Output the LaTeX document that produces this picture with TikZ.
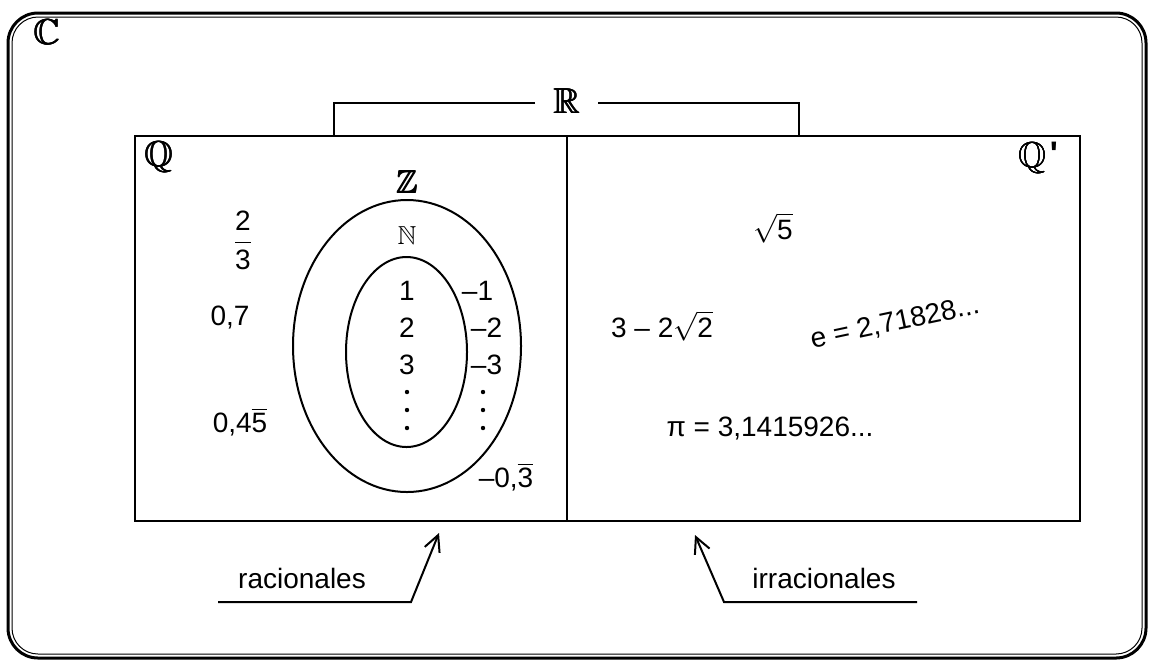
\documentclass[tikz,border=0pt]{standalone}
\usepackage{amsmath,amssymb}
\usepackage{fontspec}
\setmainfont{Liberation Sans}
\usetikzlibrary{arrows.meta}
\newcommand\fatbb[1]{\makebox[0pt][l]{$\mathbb{#1}$}\makebox[0pt][l]{\kern0.4pt$\mathbb{#1}$}\makebox[0pt][l]{\raisebox{0.25pt}{$\mathbb{#1}$}}\kern0.4pt\raisebox{0.25pt}{$\mathbb{#1}$}}
\begin{document}
\begin{tikzpicture}[x=0.5pt,y=-0.5pt,
  txt/.style={font=\fontsize{14}{16}\selectfont, inner sep=0pt},
  bb/.style={font=\fontsize{18}{20}\selectfont, inner sep=0pt},
  bbs/.style={font=\fontsize{13}{15}\selectfont, inner sep=0pt},
  boxline/.style={line width=1.3pt},
  ovl/.style={line width=1pt},
  pointer/.style={line width=1pt, -{Straight Barb[length=8pt,width=8pt,line width=1pt]}},
  dotmark/.style={fill=black}]
\useasboundingbox (0,0) rectangle (1149,661);
% outer frame (double line)
\draw[line width=1.5pt, rounded corners=15pt] (8,13) rectangle (1146,658);
\draw[line width=0.5pt, rounded corners=13pt] (12,17) rectangle (1142,654);
\node[bb] (C) at (47,32) {\fatbb{C}};
% Q and Q' boxes
\draw[boxline] (135,136) rectangle (1080,521);
\draw[boxline] (567,136) -- (567,521);
\node[bb] (Q) at (159,157) {\fatbb{Q}};
\node[bb] (Qp) at (1038,158) {\fatbb{Q}\kern1.5pt\raisebox{1pt}{\fontsize{17}{18}\selectfont\textbf{\textquotesingle}}};
% R bracket
\node[bb] (R) at (567,101) {\fatbb{R}};
\coordinate (bl) at (334,136);
\coordinate (br) at (799,136);
\draw[boxline] (535,103) -| (bl);
\draw[boxline] (598,103) -| (br);
% Z and N
\node[bb, font=\fontsize{16}{18}\selectfont] (Z) at (407,182) {\fatbb{Z}};
\draw[ovl] (407,346) ellipse [x radius=57pt, y radius=73pt];
\node[bbs] (N) at (407,236) {$\mathbb{N}$};
\draw[ovl] (406.5,352) ellipse [x radius=30.25pt, y radius=47.5pt];
% naturals
\node[txt] (n1) at (407,291) {1};
\node[txt] (n2) at (407,328) {2};
\node[txt] (n3) at (407,365) {3};
\fill[dotmark] (407,392) circle (1.1pt);
\fill[dotmark] (407,410) circle (1.1pt);
\fill[dotmark] (407,428) circle (1.1pt);
% negatives
\node[txt] (m1) at (477.5,291) {–1};
\node[txt] (m2) at (486.5,328) {–2};
\node[txt] (m3) at (486.5,365) {–3};
\fill[dotmark] (483,392) circle (1.1pt);
\fill[dotmark] (483,410) circle (1.1pt);
\fill[dotmark] (483,428) circle (1.1pt);
\node[txt] (m03) at (506,477) {–0,$\overline{\text{3}}$};
% rationals
\node[txt] (f23) at (243,240) {$\dfrac{\text{2}}{\text{3}}$};
\node[txt] (d07) at (230,317) {0,7};
\node[txt] (d045) at (240,422) {0,4$\overline{\text{5}}$};
% irrationals
\node[txt] (s5) at (773,228) {$\sqrt{\text{5}}$};
\node[txt] (s2) at (662,326) {3 – 2$\sqrt{\text{2}}$};
\node[txt, rotate=12] (e) at (895,323) {e = 2,71828...};
\node[txt] (pi) at (770,428) {π = 3,1415926...};
% labels with pointers
\node[txt] (rac) at (302,578) {racionales};
\coordinate (ra) at (218,602);
\coordinate (rb) at (411,602);
\coordinate (rt) at (439,533);
\draw[pointer] (ra) -- (rb) -- (rt);
\node[txt] (irr) at (824,578) {irracionales};
\coordinate (ia) at (917,602);
\coordinate (ib) at (724,602);
\coordinate (it) at (695,535);
\draw[pointer] (ia) -- (ib) -- (it);
\end{tikzpicture}
\end{document}
